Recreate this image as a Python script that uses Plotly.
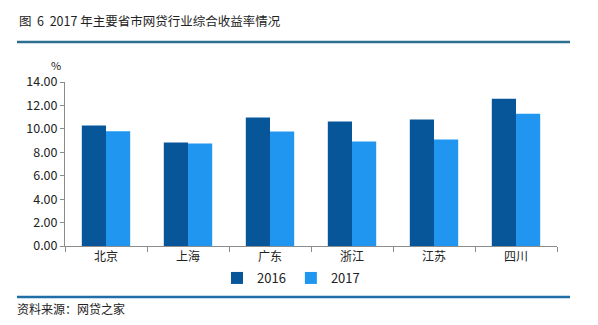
import plotly.graph_objects as go

categories = ["北京", "上海", "广东", "浙江", "江苏", "四川"]
vals_2016 = [10.28, 8.83, 10.96, 10.62, 10.79, 12.58]
vals_2017 = [9.80, 8.75, 9.77, 8.92, 9.09, 11.30]
series_names = ["2016", "2017"]
y_ticks = [0, 2, 4, 6, 8, 10, 12, 14]
y_tick_text = ["%.2f" % v for v in y_ticks]

W, H = 598, 325
L, R, T, B = 65, 41, 82, 79
pw, ph = W - L - R, H - T - B

def px(x):
    return (x - L) / pw

def py(y):
    return (H - B - y) / ph

font_cjk = "Noto Sans CJK SC, Microsoft YaHei, sans-serif"

fig = go.Figure()
fig.add_bar(x=categories, y=vals_2016, name=series_names[0], marker_color="#07569a", marker_line_width=0)
fig.add_bar(x=categories, y=vals_2017, name=series_names[1], marker_color="#2196f0", marker_line_width=0)

fig.update_layout(
    width=W, height=H,
    margin=dict(l=L, r=R, t=T, b=B),
    paper_bgcolor="white", plot_bgcolor="white",
    barmode="group", bargap=0.41, bargroupgap=0,
    font=dict(family=font_cjk, size=12, color="#222"),
    showlegend=True,
    legend=dict(orientation="h", x=px(291), xanchor="center", y=py(278), yanchor="middle",
                font=dict(size=13, color="#222"), itemwidth=30, traceorder="normal",
                bgcolor="rgba(0,0,0,0)"),
    xaxis=dict(showline=True, linecolor="#8c8c8c", linewidth=1, ticks="outside",
               tickson="boundaries", ticklen=5, tickcolor="#8c8c8c",
               tickfont=dict(size=12, color="#222"), showgrid=False),
    yaxis=dict(range=[0, 14], tickvals=y_ticks, ticktext=y_tick_text, showline=True,
               linecolor="#8c8c8c", linewidth=1, ticks="outside", ticklen=4,
               tickcolor="#8c8c8c", showgrid=False, zeroline=False,
               tickfont=dict(size=12.5, color="#222")),
)

fig.add_annotation(text="图\u00a0\u00a06\u00a0\u00a02017 年主要省市网贷行业综合收益率情况", xref="paper", yref="paper",
                   x=px(17), y=py(20), xanchor="left", yanchor="middle", showarrow=False,
                   font=dict(size=12.5, color="#222", family=font_cjk))
fig.add_annotation(text="%", xref="paper", yref="paper", x=px(56), y=py(65),
                   xanchor="center", yanchor="middle", showarrow=False,
                   font=dict(size=11, color="#222"))
fig.add_annotation(text="资料来源：网贷之家", xref="paper", yref="paper",
                   x=px(15), y=py(308), xanchor="left", yanchor="middle", showarrow=False,
                   font=dict(size=12, color="#222", family=font_cjk))

fig.add_shape(type="line", xref="paper", yref="paper", x0=px(17), x1=px(570),
              y0=py(42), y1=py(42), line=dict(color="#2d6f8e", width=2.5))
fig.add_shape(type="line", xref="paper", yref="paper", x0=px(17), x1=px(570),
              y0=py(297), y1=py(297), line=dict(color="#1f6ea8", width=2.5))

fig.write_html("out.html")
